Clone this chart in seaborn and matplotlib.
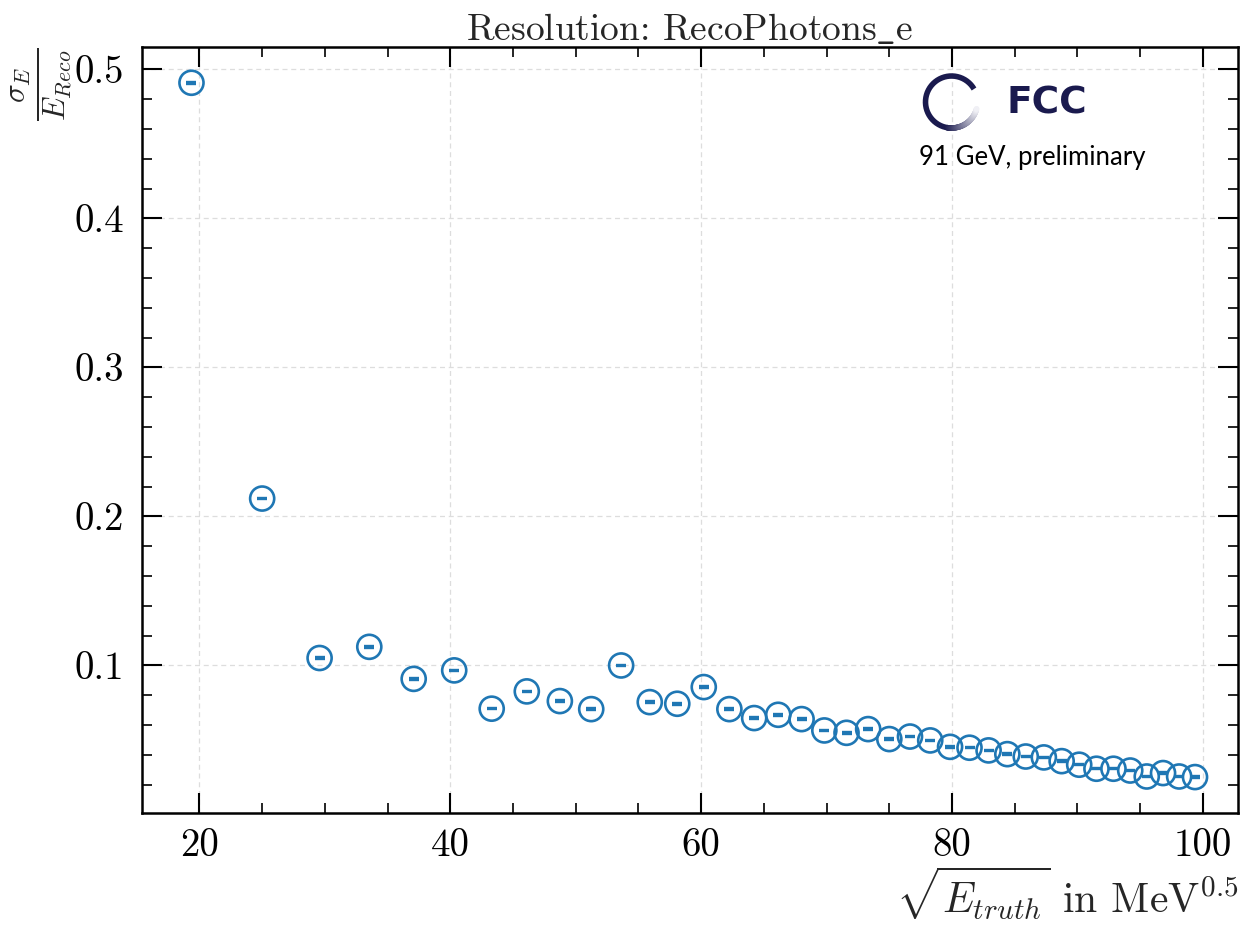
import matplotlib
matplotlib.use("Agg")
import numpy as np
import pandas as pd
import matplotlib.pyplot as plt
import seaborn as sns
from matplotlib.collections import LineCollection
from matplotlib.colors import to_rgba

# sqrt(E_truth) bin centres in MeV^0.5
sqrt_e_truth = [19.365, 25.000, 29.580, 33.541, 37.081, 40.311, 43.301, 46.098,
                48.734, 51.235, 53.619, 55.902, 58.095, 60.208, 62.249, 64.226,
                66.144, 68.007, 69.821, 71.589, 73.314, 75.000, 76.649, 78.262,
                79.844, 81.394, 82.916, 84.410, 85.878, 87.321, 88.741, 90.139,
                91.515, 92.871, 94.207, 95.525, 96.825, 98.107, 99.373]

# relative energy resolution sigma_E / E_Reco
resolution = [0.491, 0.212, 0.105, 0.1125, 0.091, 0.0967, 0.071, 0.0826,
              0.0761, 0.0707, 0.100, 0.0754, 0.0743, 0.0855, 0.0707, 0.0647,
              0.0669, 0.0640, 0.0564, 0.0548, 0.0573, 0.0506, 0.0523, 0.0497,
              0.0454, 0.0448, 0.0430, 0.0405, 0.0389, 0.0383, 0.0358, 0.0334,
              0.0307, 0.0307, 0.0295, 0.0255, 0.0278, 0.0255, 0.0251]

# statistical uncertainty on the resolution
resolution_err = [0.0005] * len(resolution)

x_ticks = [20, 40, 60, 80, 100]
y_ticks = [0.1, 0.2, 0.3, 0.4, 0.5]

df = pd.DataFrame({"x": sqrt_e_truth, "res": resolution, "err": resolution_err})

sns.set_style("ticks")
plt.rcParams.update({
    "font.family": "serif",
    "font.serif": ["cmr10"],
    "mathtext.fontset": "cm",
    "axes.formatter.use_mathtext": True,
    "axes.unicode_minus": False,
})

blue = "#1f77b4"
navy = "#1a1a4e"

fig = plt.figure(figsize=(12.5, 9.25), dpi=100)
ax = fig.add_axes([142 / 1250, 1 - 813 / 925, (1238 - 142) / 1250, (813 - 47) / 925])

sns.scatterplot(data=df, x="x", y="res", ax=ax, marker="o", s=300,
                facecolors="none", edgecolor=blue, linewidth=1.9, zorder=3,
                legend=False)
ax.errorbar(df["x"], df["res"], yerr=df["err"], fmt="none", ecolor=blue,
            elinewidth=1.2, capsize=3.4, capthick=1.7, zorder=3)

ax.set_xlim(15.42, 102.8)
ax.set_ylim(0.001, 0.515)
ax.set_xticks(x_ticks)
ax.set_yticks(y_ticks)
ax.set_xticklabels([str(t) for t in x_ticks])
ax.set_yticklabels([f"{t:.1f}" for t in y_ticks])
ax.xaxis.set_minor_locator(matplotlib.ticker.MultipleLocator(5))
ax.yaxis.set_minor_locator(matplotlib.ticker.MultipleLocator(0.02))

ax.tick_params(which="both", direction="in", top=True, right=True,
               labelsize=28, colors="black")
ax.tick_params(which="major", length=14.5, width=1.5)
ax.tick_params(which="minor", length=7, width=1.2)
ax.tick_params(axis="x", which="major", pad=11)
ax.tick_params(axis="y", which="major", pad=13)
for sp in ax.spines.values():
    sp.set_linewidth(1.8)
    sp.set_color("black")

ax.grid(True, which="major", linestyle=(0, (4, 3)), color="#dddddd", linewidth=0.9)
ax.set_axisbelow(True)

ax.set_title(r"Resolution: RecoPhotons$\_$e", fontsize=27, pad=5)
ax.set_xlabel(r"$\sqrt{E_{truth}}$ in MeV$^{0.5}$", fontsize=30, loc="right",
              labelpad=0)
ax.set_ylabel(r"$\frac{\sigma_E}{E_{Reco}}$", fontsize=32, loc="top", labelpad=0)

# FCC logo: open ring with a fading tail, followed by the wordmark
lax = fig.add_axes([(951.5 - 40) / 1250, (925 - 102 - 40) / 925, 80 / 1250, 80 / 925])
lax.set_xlim(-1, 1)
lax.set_ylim(-1, 1)
lax.set_aspect("equal")
lax.axis("off")
r = 0.65
solid = np.linspace(np.deg2rad(30), np.deg2rad(262), 200)
lax.plot(r * np.cos(solid), r * np.sin(solid), color=navy, lw=4.0,
         solid_capstyle="butt")
theta = np.linspace(np.deg2rad(260), np.deg2rad(345), 80)
pts = np.column_stack([r * np.cos(theta), r * np.sin(theta)])
segs = np.stack([pts[:-1], pts[1:]], axis=1)
c0 = np.array(to_rgba(navy))
c1 = np.array(to_rgba("#f0f0f5"))
t = np.linspace(0, 1, len(segs))[:, None]
cols = c0[None, :] * (1 - t) + c1[None, :] * t
lax.add_collection(LineCollection(segs, colors=cols, linewidths=4.0,
                                  capstyle="round"))

fig.text(1006 / 1250, 1 - 103 / 925, "FCC", fontsize=27, color=navy,
         family="DejaVu Sans", weight="bold", ha="left", va="center")
fig.text(919 / 1250, 1 - 157 / 925, "91 GeV, preliminary", fontsize=18.5,
         color="black", family="Lato", ha="left", va="center")

fig.savefig("out.png", dpi=100)
